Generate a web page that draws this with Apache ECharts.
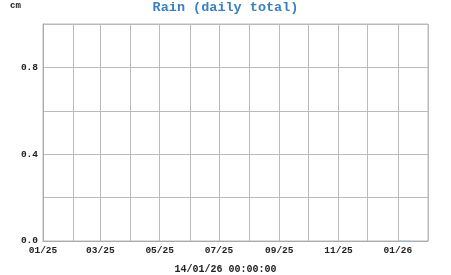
<!DOCTYPE html>
<html><head><meta charset="utf-8">
<script src="https://cdn.jsdelivr.net/npm/echarts@6/dist/echarts.min.js"></script>
<style>html,body{margin:0;padding:0;background:#fff}#c{width:451px;height:275px}</style>
</head><body><div id="c"></div>
<script>
const titleText = 'Rain (daily total)';
const unitLabel = 'cm';
const timestampLabel = '14/01/26 00:00:00';
const xMin = '2025-01-01';
const xMax = '2026-02-01';
const yTicks = [0, 0.2, 0.4, 0.6, 0.8, 1.0];
const dates = ['2026-01-01','2026-01-02','2026-01-03','2026-01-04','2026-01-05','2026-01-06','2026-01-07','2026-01-08','2026-01-09','2026-01-10','2026-01-11','2026-01-12','2026-01-13','2026-01-14'];
const rain = [0,0,0,0,0,0,0,0,0,0,0,0,0,0];

const font = '"Liberation Mono", "DejaVu Sans Mono", monospace';
const chart = echarts.init(document.getElementById('c'), null, {renderer:'canvas'});
const DAY = 86400000;
chart.setOption({
  animation:false,
  backgroundColor:'#fff',
  title:[
    {text:titleText, left:'center', top:1, padding:0, textStyle:{fontFamily:font, fontSize:13.5, fontWeight:'bold', color:'#3a7fc0'}},
    {text:unitLabel, left:10, top:1, padding:0, textStyle:{fontFamily:font, fontSize:9, fontWeight:'bold', color:'#222'}},
    {text:timestampLabel, left:'center', top:264, padding:0, textStyle:{fontFamily:font, fontSize:10, fontWeight:'bold', color:'#222'}}
  ],
  grid:{left:43, right:23, top:24, bottom:34, show:true, borderColor:'#bbb', borderWidth:1},
  xAxis:{
    type:'time', min:new Date(xMin).getTime(), max:new Date(xMax).getTime(),
    minInterval:28*DAY, maxInterval:31*DAY,
    axisLine:{lineStyle:{color:'#aaa'}}, axisTick:{show:false},
    splitLine:{show:true, lineStyle:{color:'#bbb', width:1}},
    axisLabel:{fontFamily:font, fontSize:9.5, fontWeight:'bold', color:'#222', margin:5, showMinLabel:true, showMaxLabel:false, hideOverlap:false,
      formatter:function(v){const d=new Date(v); const m=d.getMonth(); if(m%2!==0) return ''; return String(m+1).padStart(2,'0')+'/'+String(d.getFullYear()%100).padStart(2,'0');}}
  },
  yAxis:{
    type:'value', min:yTicks[0], max:yTicks[yTicks.length-1], interval:0.2,
    axisLine:{show:true, lineStyle:{color:'#aaa'}}, axisTick:{show:false},
    splitLine:{show:true, lineStyle:{color:'#bbb', width:1}},
    axisLabel:{fontFamily:font, fontSize:9.5, fontWeight:'bold', color:'#222', margin:5,
      formatter:function(v){const r=Math.round(v*10); if(r%4!==0) return ''; return v.toFixed(1);}}
  },
  series:[{
    type:'line', data:dates.map((d,i)=>[d, rain[i]]), symbol:'none',
    lineStyle:{color:'#a8c8e8', width:1}
  }]
});
</script></body></html>
